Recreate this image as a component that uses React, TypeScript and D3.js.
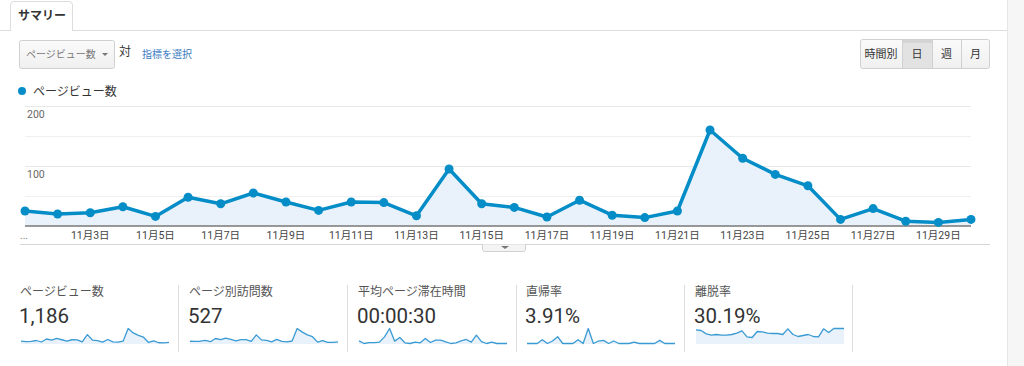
import { useEffect, useRef } from 'react';
import * as d3 from 'd3';

// days of November
const days = [1, 2, 3, 4, 5, 6, 7, 8, 9, 10, 11, 12, 13, 14, 15, 16, 17, 18, 19, 20, 21, 22, 23, 24, 25, 26, 27, 28, 29, 30];
const pageViews = [25, 20, 22, 32, 16, 48, 37, 55, 40, 26, 40, 39, 17, 95, 37, 31, 15, 43, 18, 14, 25, 160, 113, 86, 67, 11, 29, 8, 6, 11];
const uniqueViews = [10, 9, 10, 14, 8, 22, 17, 24, 18, 12, 17, 17, 9, 38, 16, 14, 7, 18, 9, 7, 11, 66, 50, 38, 30, 6, 13, 5, 5, 7];
const avgTime = [19, 0, 7, 7, 10, 48, 108, 17, 43, 5, 0, 10, 5, 36, 7, 24, 24, 12, 0, 5, 19, 29, 10, 60, 14, 0, 10, 0, 0, 0];
const bounceRate = [0, 0, 0, 5.0, 0, 3.3, 9.1, 0, 0, 0, 5.0, 0, 20.0, 0, 3.3, 4.2, 0, 3.3, 0, 0, 0, 1.7, 0, 0, 0, 0, 4.2, 0, 0, 0];
const exitRate = [41, 39, 29, 25, 27, 25, 25, 27, 31, 38, 20, 18, 36, 35, 31, 30, 30, 27, 44, 27, 21, 24, 27, 21, 20, 44, 33, 45, 45, 45];

const gridTicks = [50, 100, 150, 200];
const labelTicks = [100, 200];
const xTickDays = [3, 5, 7, 9, 11, 13, 15, 17, 19, 21, 23, 25, 27, 29];

const cardLabels = ['ページビュー数', 'ページ別訪問数', '平均ページ滞在時間', '直帰率', '離脱率'];
const cardValues = ['1,186', '527', '00:00:30', '3.91%', '30.19%'];
const cardSeries = [pageViews, uniqueViews, avgTime, bounceRate, exitRate];

const periodButtons = ['時間別', '日', '週', '月'];

const BLUE = '#058dc7';
const FILL = '#e9f2fa';
const JP = "'Noto Sans CJK JP', sans-serif";
const NUM = "Roboto, 'Noto Sans CJK JP', sans-serif";

const App = () => {
  const svgRef = useRef(null);
  const width = 1024;
  const height = 366;

  useEffect(() => {
    const svg = d3.select(svgRef.current);
    svg.selectAll('*').remove();
    svg.attr('width', width).attr('height', height);

    svg.append('rect').attr('width', width).attr('height', height).attr('fill', '#fff');

    // right gray strip
    svg.append('rect').attr('x', 1007).attr('y', 0).attr('width', 17).attr('height', height).attr('fill', '#f6f6f6');
    svg.append('line').attr('x1', 1007.5).attr('x2', 1007.5).attr('y1', 0).attr('y2', height).attr('stroke', '#e6e6e6');

    // tab
    svg.append('line').attr('x1', 0).attr('x2', 1007).attr('y1', 30.5).attr('y2', 30.5).attr('stroke', '#ddd');
    svg.append('path')
      .attr('d', 'M10.5,31 V5 Q10.5,1.5 14,1.5 H69 Q72.5,1.5 72.5,5 V31')
      .attr('fill', '#fff').attr('stroke', '#ddd');
    svg.append('rect').attr('x', 11).attr('y', 29).attr('width', 61).attr('height', 3).attr('fill', '#fff');
    svg.append('text').attr('x', 18).attr('y', 20).attr('font-family', JP).attr('font-size', 12)
      .attr('font-weight', 'bold').attr('fill', '#333').text('サマリー');

    // metric dropdown
    const grad = svg.append('defs').append('linearGradient').attr('id', 'btn-grad')
      .attr('x1', 0).attr('x2', 0).attr('y1', 0).attr('y2', 1);
    grad.append('stop').attr('offset', '0%').attr('stop-color', '#fafafa');
    grad.append('stop').attr('offset', '100%').attr('stop-color', '#f0f0f0');

    svg.append('rect').attr('x', 19.5).attr('y', 40.5).attr('width', 95).attr('height', 28).attr('rx', 2)
      .attr('fill', 'url(#btn-grad)').attr('stroke', '#d0d0d0');
    svg.append('text').attr('x', 26).attr('y', 58).attr('font-family', JP).attr('font-size', 10)
      .attr('fill', '#777').text('ページビュー数');
    svg.append('path').attr('d', 'M102,53 L108,53 L105,56 Z').attr('fill', '#777');
    svg.append('text').attr('x', 119).attr('y', 56).attr('font-family', JP).attr('font-size', 12)
      .attr('fill', '#333').text('対');
    svg.append('text').attr('x', 142).attr('y', 58).attr('font-family', JP).attr('font-size', 10)
      .attr('fill', '#3b7bbf').text('指標を選択');

    // period buttons
    const btnEdges = [860, 902, 932, 961, 990];
    const btns = svg.append('g');
    btns.append('rect').attr('x', 860.5).attr('y', 39.5).attr('width', 129).attr('height', 29).attr('rx', 2)
      .attr('fill', 'url(#btn-grad)').attr('stroke', '#d0d0d0');
    btns.append('rect').attr('x', 902).attr('y', 40).attr('width', 30).attr('height', 28).attr('fill', '#e2e2e2');
    btns.append('rect').attr('x', 902).attr('y', 40).attr('width', 30).attr('height', 3).attr('fill', '#d4d4d4');
    periodButtons.forEach((b, i) => {
      if (i > 0) {
        btns.append('line').attr('x1', btnEdges[i] + 0.5).attr('x2', btnEdges[i] + 0.5)
          .attr('y1', 40).attr('y2', 68).attr('stroke', '#d0d0d0');
      }
      btns.append('text').attr('x', (btnEdges[i] + btnEdges[i + 1]) / 2).attr('y', 58)
        .attr('text-anchor', 'middle').attr('font-family', JP).attr('font-size', 11)
        .attr('fill', '#333').text(b);
    });

    // legend
    svg.append('circle').attr('cx', 22).attr('cy', 91).attr('r', 4).attr('fill', BLUE);
    svg.append('text').attr('x', 33).attr('y', 96).attr('font-family', JP).attr('font-size', 12)
      .attr('fill', '#333').text('ページビュー数');

    // main chart
    const x = d3.scalePoint().domain(days).range([25, 971]);
    const y = d3.scaleLinear().domain([0, 200]).range([226, 106]);

    const g = svg.append('g');
    g.selectAll('.grid').data(gridTicks).enter().append('line')
      .attr('x1', 25).attr('x2', 971)
      .attr('y1', d => Math.round(y(d)) + 0.5).attr('y2', d => Math.round(y(d)) + 0.5)
      .attr('stroke', d => (labelTicks.includes(d) ? '#e8e8e8' : '#f0f0f0'));

    g.selectAll('.ylab').data(labelTicks).enter().append('text')
      .attr('x', 27).attr('y', d => y(d) + 12)
      .attr('font-family', NUM).attr('font-size', 10.5).attr('fill', '#666').text(d => d);

    const area = d3.area().x((d, i) => x(days[i])).y0(y(0)).y1(d => y(d));
    const line = d3.line().x((d, i) => x(days[i])).y(d => y(d));

    g.append('path').datum(pageViews).attr('d', area).attr('fill', FILL);
    g.append('line').attr('x1', 25).attr('x2', 971).attr('y1', 226).attr('y2', 226)
      .attr('stroke', '#777').attr('stroke-width', 1.5);
    g.append('path').datum(pageViews).attr('d', line).attr('fill', 'none')
      .attr('stroke', BLUE).attr('stroke-width', 3.5).attr('stroke-linejoin', 'round');
    g.selectAll('.pt').data(pageViews).enter().append('circle')
      .attr('cx', (d, i) => x(days[i])).attr('cy', d => y(d)).attr('r', 4.5).attr('fill', BLUE);

    // x labels
    g.append('text').attr('x', 20).attr('y', 239).attr('font-family', NUM).attr('font-size', 10)
      .attr('fill', '#777').text('...');
    g.selectAll('.xlab').data(xTickDays).enter().append('text')
      .attr('x', d => x(d)).attr('y', 239).attr('text-anchor', 'middle')
      .attr('font-family', NUM).attr('font-size', 10.5).attr('fill', '#444')
      .text(d => `11月${d}日`);

    // bottom rule with handle
    svg.append('line').attr('x1', 20).attr('x2', 990).attr('y1', 244.5).attr('y2', 244.5).attr('stroke', '#d6d6d6');
    svg.append('path').attr('d', 'M482.5,244.5 V249 Q482.5,251.5 485,251.5 H523 Q525.5,251.5 525.5,249 V244.5')
      .attr('fill', '#f4f4f4').attr('stroke', '#d0d0d0');
    svg.append('path').attr('d', 'M501,246 L509,246 L505,249 Z').attr('fill', '#777');

    // scorecards
    const cardLeft = [21, 190, 359, 527, 696];
    const dividers = [178, 347, 516, 684, 852];
    dividers.forEach(dx => {
      svg.append('line').attr('x1', dx + 0.5).attr('x2', dx + 0.5).attr('y1', 285).attr('y2', 352)
        .attr('stroke', '#ddd');
    });

    cardLabels.forEach((label, k) => {
      const cx = cardLeft[k];
      const card = svg.append('g');
      card.append('text').attr('x', cx - 1).attr('y', 296).attr('font-family', JP).attr('font-size', 12)
        .attr('fill', '#555').text(label);
      card.append('text').attr('x', cx - 2).attr('y', 323).attr('font-family', NUM).attr('font-size', 20.5)
        .attr('fill', '#333').text(cardValues[k]);

      const series = cardSeries[k];
      const sx = d3.scalePoint().domain(days).range([cx, cx + 148]);
      const sy = d3.scaleLinear().domain([0, d3.max(series)]).range([343.5, 328.5]);
      const sArea = d3.area().x((d, i) => sx(days[i])).y0(344).y1(d => sy(d));
      const sLine = d3.line().x((d, i) => sx(days[i])).y(d => sy(d));
      card.append('path').datum(series).attr('d', sArea).attr('fill', FILL);
      card.append('path').datum(series).attr('d', sLine).attr('fill', 'none')
        .attr('stroke', '#3a9ad3').attr('stroke-width', 1.3).attr('stroke-linejoin', 'round');
    });
  }, []);

  return (
    <div style={{ position: 'absolute', left: 0, top: 0 }}>
      <svg ref={svgRef} style={{ display: 'block' }}></svg>
    </div>
  );
};

export default App;
